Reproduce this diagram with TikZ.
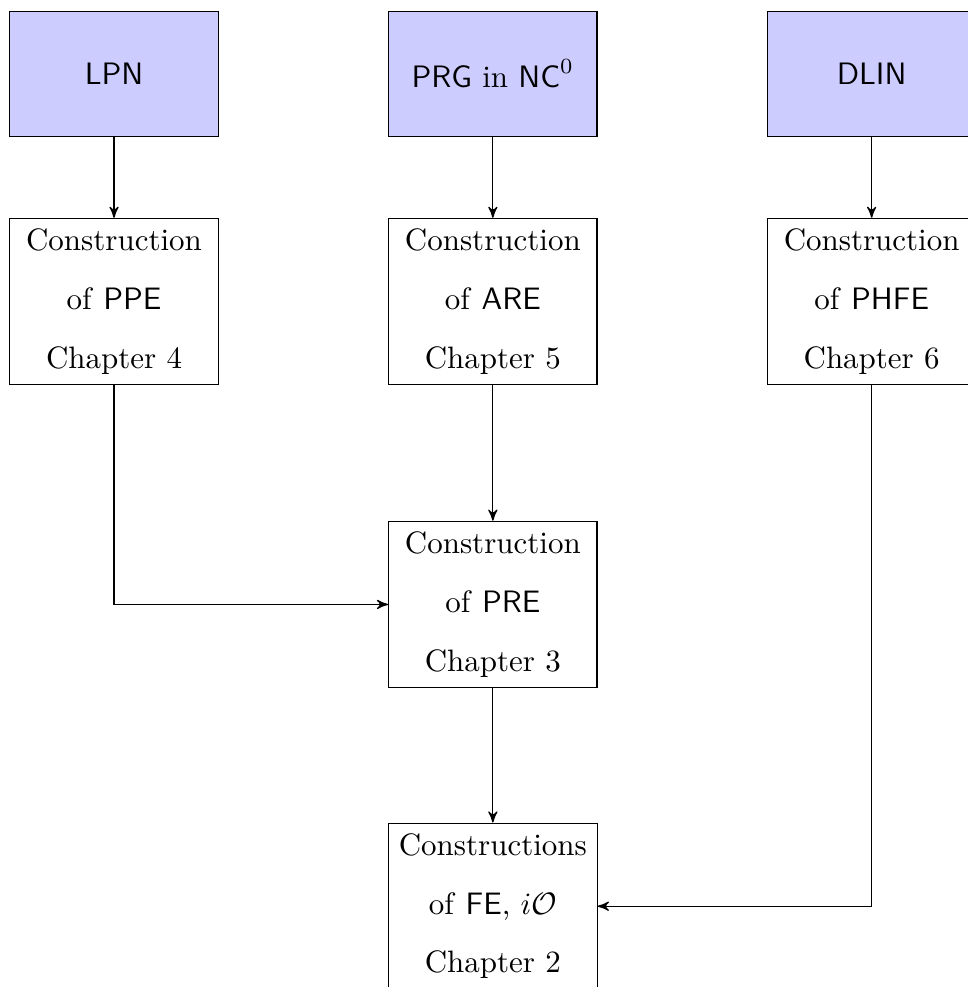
\documentclass[tikz,border=0pt]{standalone}
\usepackage{amsmath}
\usepackage{amssymb}
\usepackage{tikz}
\usetikzlibrary{arrows,positioning}
\tikzset{
>=stealth',
  assumption/.style={
    rectangle,
    draw=black,
    fill=blue!20,
    minimum width=2.365cm,
    minimum height=1.419cm,
    text centered},
  chapbox/.style={
    rectangle,
    draw=black,
    minimum width=2.365cm,
    align=center},
  line/.style={draw, ->},
}

\begin{document}
\begin{tikzpicture}
  \useasboundingbox (-1.294,0.836) rectangle (9.681,-10.365);
  % assumptions
  \node[assumption] (lpn) {\textsf{LPN}};
  \node[assumption, right=1.92cm of lpn] (prg) {\textsf{PRG} in $\mathsf{NC}^0$};
  \node[assumption, right=1.92cm of prg] (dlin) {\textsf{DLIN}};
  % constructions
  \node[chapbox, below=0.919cm of lpn] (ppe)
    {Construction\\[7pt] of \textsf{PPE}\\[7pt] Chapter 4};
  \node[chapbox, below=0.919cm of prg] (are)
    {Construction\\[7pt] of \textsf{ARE}\\[7pt] Chapter 5};
  \node[chapbox, below=0.919cm of dlin] (phfe)
    {Construction\\[7pt] of \textsf{PHFE}\\[7pt] Chapter 6};
  \node[chapbox, below=1.538cm of are] (pre)
    {Construction\\[7pt] of \textsf{PRE}\\[7pt] Chapter 3};
  \node[chapbox, below=1.525cm of pre] (fe)
    {Constructions\\[7pt] of \textsf{FE}, $i\mathcal{O}$\\[7pt] Chapter 2};

  \path[line] (lpn) -- (ppe);
  \path[line] (prg) -- (are);
  \path[line] (dlin) -- (phfe);
  \path[line] (ppe) |- (pre);
  \path[line] (are) -- (pre);
  \path[line] (pre) -- (fe);
  \path[line] (phfe) |- (fe);
\end{tikzpicture}
\end{document}
